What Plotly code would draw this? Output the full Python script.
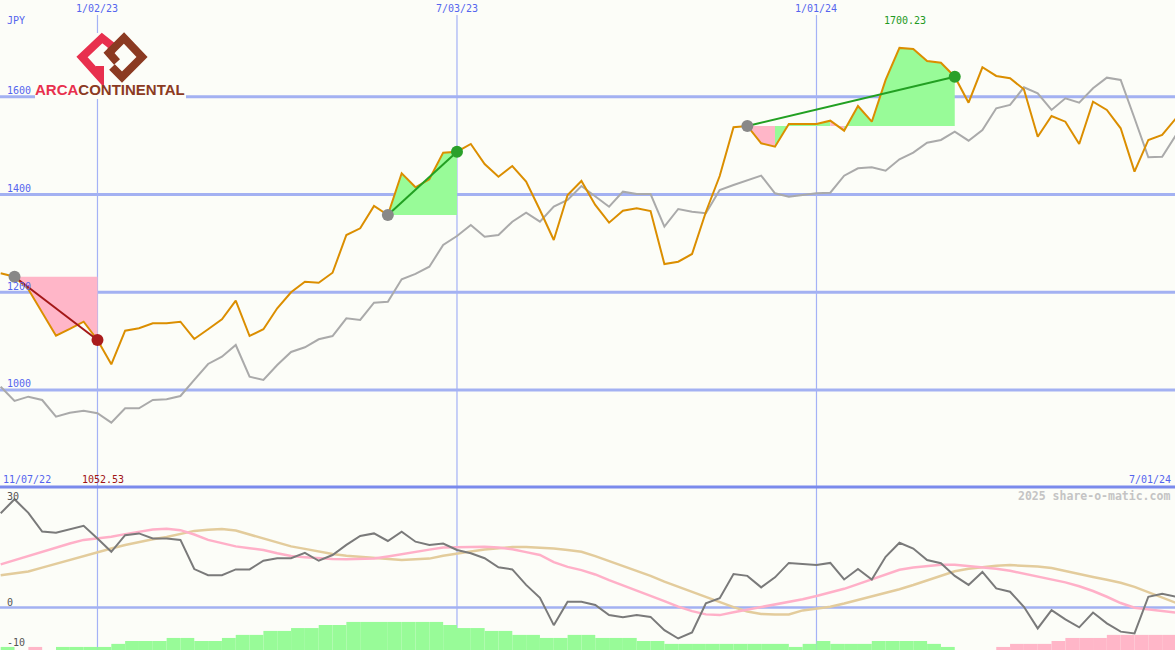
import plotly.graph_objects as go
import pandas as pd

# ---------------- data ----------------
DATES = pd.date_range("2022-11-14", periods=86, freq="7D")

PRICE = [1238.9, 1231.9, 1206.1, 1159.7, 1111.2, 1124.9, 1139.8, 1102.4, 1052.53, 1121.4,
         1126.3, 1136.5, 1136.5, 1139.8, 1104.4, 1124.3, 1144.7, 1182.8, 1110.5, 1124.3,
         1167.2, 1200.0, 1221.7, 1219.6, 1240.0, 1317.3, 1331.0, 1376.6, 1358.2, 1443.6,
         1414.9, 1431.3, 1485.8, 1487.8, 1503.6, 1462.6, 1436.6, 1458.5, 1426.4, 1368.5,
         1307.1, 1399.2, 1427.8, 1378.7, 1342.5, 1367.0, 1371.9, 1366.4, 1257.9, 1262.6,
         1278.4, 1364.4, 1438.0, 1537.8, 1540.4, 1505.0, 1498.0, 1544.5, 1544.5, 1544.5,
         1551.3, 1530.8, 1581.3, 1549.2, 1634.6, 1700.23, 1698.0, 1673.5, 1670.0, 1641.3,
         1588.1, 1660.6, 1642.8, 1638.0, 1615.5, 1518.5, 1560.9, 1549.2, 1503.6, 1590.1,
         1573.2, 1535.7, 1446.9, 1511.8, 1522.0, 1556.2]

RELATIVE = [1006.8, 977.5, 986.3, 979.5, 945.3, 953.5, 957.6, 952.3, 933.1, 962.5,
            962.5, 979.5, 981.0, 987.7, 1020.5, 1053.2, 1068.2, 1092.1, 1027.2, 1020.5,
            1051.2, 1077.8, 1087.4, 1103.8, 1110.5, 1146.8, 1143.3, 1178.7, 1180.7, 1226.6,
            1237.5, 1252.4, 1296.8, 1315.2, 1337.8, 1313.8, 1317.3, 1344.5, 1362.9, 1344.5,
            1375.2, 1388.9, 1417.6, 1397.1, 1375.2, 1405.9, 1401.2, 1401.2, 1334.3, 1370.5,
            1365.0, 1361.7, 1409.4, 1419.6, 1429.9, 1438.7, 1402.6, 1395.7, 1399.2, 1402.6,
            1403.9, 1438.7, 1453.8, 1455.9, 1448.9, 1472.2, 1485.8, 1506.2, 1511.8, 1528.7,
            1510.3, 1532.2, 1576.6, 1583.4, 1619.6, 1607.3, 1573.2, 1597.1, 1588.1, 1617.6,
            1639.3, 1634.6, 1556.2, 1476.3, 1477.6, 1522.0]

OSC = [26.2, 30.1, 26.3, 21.1, 20.8, 21.7, 22.7, 19.2, 15.5, 20.1,
       20.6, 19.2, 19.2, 18.8, 10.7, 9.0, 9.0, 10.6, 10.6, 13.0,
       13.7, 13.7, 15.2, 13.0, 14.6, 17.4, 19.9, 20.6, 18.5, 21.1,
       18.3, 17.4, 17.8, 16.0, 15.1, 13.7, 11.2, 10.6, 6.3, 2.7,
       -4.9, 1.6, 1.6, 0.7, -2.1, -2.7, -2.1, -2.6, -6.3, -8.6,
       -6.9, 1.2, 2.6, 9.3, 8.8, 5.6, 8.4, 12.4, 12.1, 11.8,
       12.4, 7.8, 10.7, 7.8, 14.1, 18.0, 16.4, 13.2, 12.3, 8.8,
       6.3, 9.9, 5.3, 4.4, 0.2, -5.8, -0.7, -3.3, -5.5, -1.4,
       -4.4, -6.7, -7.2, 3.0, 3.8, 3.0]

MA_FAST = [12.0, 13.2, 14.3, 15.6, 16.7, 17.8, 18.8, 19.2, 19.7, 20.4,
           21.1, 21.7, 21.9, 21.5, 20.3, 18.8, 17.9, 17.0, 16.5, 16.0,
           15.1, 14.3, 14.0, 13.7, 13.5, 13.4, 13.5, 13.6, 14.2, 14.9,
           15.5, 16.1, 16.7, 16.8, 16.9, 16.9, 16.7, 16.2, 15.4, 14.6,
           12.6, 11.3, 10.4, 9.2, 7.6, 6.2, 4.7, 3.3, 1.8, 0.25,
           -1.0, -1.9, -2.1, -1.3, -0.6, 0.1, 0.8, 1.5, 2.3, 3.2,
           4.1, 5.2, 6.5, 7.9, 9.3, 10.5, 11.1, 11.5, 11.9, 11.9,
           11.6, 11.3, 10.8, 10.2, 9.4, 8.6, 7.8, 7.0, 5.9, 4.6,
           3.0, 1.25, -0.05, -0.5, -0.9, -1.4]

MA_SLOW = [9.0, 9.4, 10.0, 11.1, 12.2, 13.2, 14.3, 15.4, 16.4, 17.4,
           18.3, 19.0, 19.6, 20.4, 21.3, 21.6, 21.8, 21.4, 20.3, 19.2,
           18.1, 17.0, 16.3, 15.5, 14.9, 14.4, 14.1, 13.9, 13.5, 13.2,
           13.4, 13.6, 14.4, 15.1, 15.6, 16.1, 16.5, 16.8, 16.8, 16.7,
           16.4, 16.0, 15.5, 14.3, 12.9, 11.7, 10.3, 8.8, 7.2, 5.75,
           4.3, 2.9, 1.4, 0.1, -1.1, -1.8, -1.9, -1.9, -0.8, -0.2,
           0.2, 1.1, 2.1, 2.9, 3.9, 5.1, 6.25, 7.5, 8.9, 10.1,
           10.75, 11.2, 11.6, 11.8, 11.7, 11.4, 11.0, 10.1, 9.3, 8.5,
           7.7, 6.9, 5.75, 4.3, 2.8, 1.3]

HIST = [0.85, 0, -0.85, 0, 0.85, 0.85, 0.85, 0.85, 1.7, 2.5,
        2.5, 2.5, 3.35, 3.35, 2.5, 2.5, 3.35, 4.2, 4.2, 5.3,
        5.3, 6.1, 6.1, 6.95, 6.95, 7.8, 7.8, 7.8, 7.8, 7.8,
        7.8, 7.8, 6.95, 6.1, 6.1, 5.3, 5.3, 4.2, 4.2, 3.35,
        3.35, 4.2, 4.2, 3.35, 3.35, 3.35, 2.5, 2.5, 1.7, 1.7,
        1.7, 1.7, 1.7, 1.7, 1.7, 1.7, 1.7, 0.85, 1.7, 2.5,
        1.7, 1.7, 1.7, 2.5, 2.5, 2.5, 2.5, 1.7, 0.85, 0,
        0, 0, -0.85, -1.7, -1.7, -1.7, -2.5, -3.35, -3.35, -3.35,
        -4.2, -4.2, -4.2, -4.2, -4.2, -4.2]

PERIOD_START = ["2022-11-21", "2023-05-29", "2023-11-27"]
PERIOD_END = ["2023-01-02", "2023-07-03", "2024-03-11"]

Y_TICKS = [1000, 1200, 1400, 1600]
Y2_TICKS = [30, 0, -10]
X_TICKS = ["2023-01-02", "2023-07-03", "2024-01-01"]
X_TICK_TEXT = ["1/02/23", "7/03/23", "1/01/24"]

# ---------------- style ----------------
W, H = 1175, 650
BG = "#fcfdf8"
GRID = "#a3b1f2"
SEP = "#7a8aec"
VLINE = "#a4b2f6"
LABEL = "#5565ee"
ORANGE = "#db8e00"
GRAY = "#aaaaaa"
OSC_C = "#7a7a7a"
PINK_LINE = "#ffb0c8"
TAN_LINE = "#e3cc9c"
GREEN_FILL = "#98fb98"
PINK_FILL = "#ffb6c8"
MONO = "DejaVu Sans Mono"
SPLIT = 163 / H           # lower panel height fraction
Y_RANGE = [801.4, 1798.3]
Y2_RANGE = [-11.8, 33.5]
X_RANGE = ["2022-11-13 15:36", "2024-06-30 12:00"]


def px(x):
    return x / W


def py(y):
    return 1 - y / H


dates = list(DATES)
idx = {d.strftime("%Y-%m-%d"): i for i, d in enumerate(dates)}

fig = go.Figure()

# ---- performance fills (upper panel) ----
for s, e in zip(PERIOD_START, PERIOD_END):
    i0, i1 = idx[s], idx[e]
    level = PRICE[i0]
    runs = []
    for k in range(i0, i1):
        up = PRICE[k + 1] >= level
        if runs and runs[-1][0] == up:
            runs[-1][2] = k + 1
        else:
            runs.append([up, k, k + 1])
    for up, a, b in runs:
        xs = [dates[a]] + [dates[k] for k in range(a, b + 1)] + [dates[b]]
        ys = [level] + [PRICE[k] for k in range(a, b + 1)] + [level]
        fig.add_trace(go.Scatter(x=xs, y=ys, fill="toself", mode="lines",
                                 line=dict(width=0), fillcolor=GREEN_FILL if up else PINK_FILL,
                                 hoverinfo="skip", showlegend=False, xaxis="x", yaxis="y"))

# ---- relative and price lines ----
fig.add_trace(go.Scatter(x=dates, y=RELATIVE, mode="lines", line=dict(color=GRAY, width=2),
                         showlegend=False, xaxis="x", yaxis="y"))
fig.add_trace(go.Scatter(x=dates, y=PRICE, mode="lines", line=dict(color=ORANGE, width=2),
                         showlegend=False, xaxis="x", yaxis="y"))

# ---- period connectors and markers ----
for s, e in zip(PERIOD_START, PERIOD_END):
    i0, i1 = idx[s], idx[e]
    gain = PRICE[i1] >= PRICE[i0]
    lc = "#22a022" if gain else "#a41818"
    mc = "#2aa02a" if gain else "#aa1c1c"
    fig.add_trace(go.Scatter(x=[dates[i0], dates[i1]], y=[PRICE[i0], PRICE[i1]], mode="lines",
                             line=dict(color=lc, width=2), showlegend=False,
                             xaxis="x", yaxis="y"))
    fig.add_trace(go.Scatter(x=[dates[i0]], y=[PRICE[i0]], mode="markers",
                             marker=dict(color="#888888", size=12), showlegend=False,
                             xaxis="x", yaxis="y"))
    fig.add_trace(go.Scatter(x=[dates[i1]], y=[PRICE[i1]], mode="markers",
                             marker=dict(color=mc, size=12), showlegend=False,
                             xaxis="x", yaxis="y"))

# ---- lower panel ----
fig.add_trace(go.Bar(x=dates, y=[abs(v) for v in HIST], base=Y2_RANGE[0],
                     width=7 * 86400000, offset=0,
                     marker=dict(color=[GREEN_FILL if v >= 0 else PINK_FILL for v in HIST],
                                 line=dict(width=0)),
                     showlegend=False, xaxis="x2", yaxis="y2"))
fig.add_trace(go.Scatter(x=dates, y=MA_SLOW, mode="lines", line=dict(color=TAN_LINE, width=2.5),
                         showlegend=False, xaxis="x2", yaxis="y2"))
fig.add_trace(go.Scatter(x=dates, y=MA_FAST, mode="lines", line=dict(color=PINK_LINE, width=2.5),
                         showlegend=False, xaxis="x2", yaxis="y2"))
fig.add_trace(go.Scatter(x=dates, y=OSC, mode="lines", line=dict(color=OSC_C, width=2),
                         showlegend=False, xaxis="x2", yaxis="y2"))

# ---- shapes ----
shapes = []
for v in Y_TICKS:
    shapes.append(dict(type="line", xref="paper", yref="y", x0=0, x1=1, y0=v, y1=v,
                       line=dict(color=GRID, width=3), layer="below"))
shapes.append(dict(type="line", xref="paper", yref="y2", x0=0, x1=1, y0=0, y1=0,
                   line=dict(color=GRID, width=2.5), layer="below"))
for d in X_TICKS:
    shapes.append(dict(type="line", xref="x", yref="paper", x0=d, x1=d, y0=0, y1=py(15),
                       line=dict(color=VLINE, width=1.2), layer="below"))
shapes.append(dict(type="line", xref="paper", yref="paper", x0=0, x1=1, y0=SPLIT, y1=SPLIT,
                   line=dict(color=SEP, width=3), layer="below"))

# logo background + marks
shapes.append(dict(type="rect", xref="paper", yref="paper", x0=px(35), x1=px(186),
                   y0=py(99), y1=py(33), fillcolor=BG, line=dict(width=0), layer="above"))


def path(pts):
    return "M " + " L ".join(f"{px(x):.5f},{py(y):.5f}" for x, y in pts)


shapes.append(dict(type="path", xref="paper", yref="paper",
                   path=path([(111, 53), (112, 46), (102, 38), (82, 57), (100, 77), (100, 66)]),
                   line=dict(color="#e8304e", width=8), layer="above"))
shapes.append(dict(type="path", xref="paper", yref="paper",
                   path=path([(117, 62), (109, 53), (124, 38), (142, 57), (122, 77), (112, 67)]),
                   line=dict(color="#8b3a22", width=8), layer="above"))

# ---- annotations ----
ann = []
for v in Y_TICKS:
    ann.append(dict(xref="paper", yref="y", x=px(5), y=v, yshift=6, text=str(v),
                    showarrow=False, xanchor="left", yanchor="middle",
                    font=dict(family=MONO, size=10, color=LABEL)))
ann.append(dict(xref="paper", yref="paper", x=px(5), y=py(21), text="JPY", showarrow=False,
                xanchor="left", yanchor="middle", font=dict(family=MONO, size=10, color=LABEL)))
for d, t in zip(X_TICKS, X_TICK_TEXT):
    ann.append(dict(xref="x", yref="paper", x=d, y=py(9), text=t, showarrow=False,
                    xanchor="center", yanchor="middle",
                    font=dict(family=MONO, size=10, color=LABEL)))
for v, sh in zip(Y2_TICKS, [3.5, 5.5, 1.5]):
    ann.append(dict(xref="paper", yref="y2", x=px(5), y=v, yshift=sh, text=str(v),
                    showarrow=False, xanchor="left", yanchor="middle",
                    font=dict(family=MONO, size=10, color="#555555")))
ann.append(dict(xref="paper", yref="paper", x=px(1), y=py(479), text="11/07/22",
                showarrow=False, xanchor="left", yanchor="middle",
                font=dict(family=MONO, size=10, color=LABEL)))
ann.append(dict(xref="paper", yref="paper", x=px(1173), y=py(479), text="7/01/24",
                showarrow=False, xanchor="right", yanchor="middle",
                font=dict(family=MONO, size=10, color=LABEL)))
ann.append(dict(xref="paper", yref="paper", x=px(102.5), y=py(479), text=f"{min(PRICE):.2f}",
                showarrow=False, xanchor="center", yanchor="middle",
                font=dict(family=MONO, size=10, color="#a01414")))
ann.append(dict(xref="paper", yref="paper", x=px(904.5), y=py(21), text=f"{max(PRICE):.2f}",
                showarrow=False, xanchor="center", yanchor="middle",
                font=dict(family=MONO, size=10, color="#229922")))
ann.append(dict(xref="paper", yref="paper", x=px(1172), y=py(496),
                text="<b>2025 share-o-matic.com</b>", showarrow=False,
                xanchor="right", yanchor="middle",
                font=dict(family=MONO, size=11.5, color="#c4c4c4")))
ann.append(dict(xref="paper", yref="paper", x=px(110), y=py(90),
                text="<b><span style='color:#e8304e'>ARCA</span>"
                     "<span style='color:#8b3a22'>CONTINENTAL</span></b>",
                showarrow=False, xanchor="center", yanchor="middle",
                font=dict(family="Liberation Sans", size=15)))

axis_off = dict(visible=False, showgrid=False, zeroline=False, fixedrange=True)
fig.update_layout(
    width=W, height=H, margin=dict(l=0, r=0, t=0, b=0),
    paper_bgcolor=BG, plot_bgcolor=BG, showlegend=False, barmode="overlay",
    xaxis=dict(domain=[0, 1], range=X_RANGE, type="date", anchor="y", **axis_off),
    xaxis2=dict(domain=[0, 1], range=X_RANGE, type="date", anchor="y2", matches="x", **axis_off),
    yaxis=dict(domain=[SPLIT, 1], range=Y_RANGE, anchor="x", **axis_off),
    yaxis2=dict(domain=[0, SPLIT], range=Y2_RANGE, anchor="x2", **axis_off),
    shapes=shapes, annotations=ann,
)

fig.write_html("out.html", config={"displayModeBar": False},
               post_script="document.body.style.margin='0px';"
                           "document.body.style.overflow='hidden';"
                           "document.body.style.background='" + BG + "';")
